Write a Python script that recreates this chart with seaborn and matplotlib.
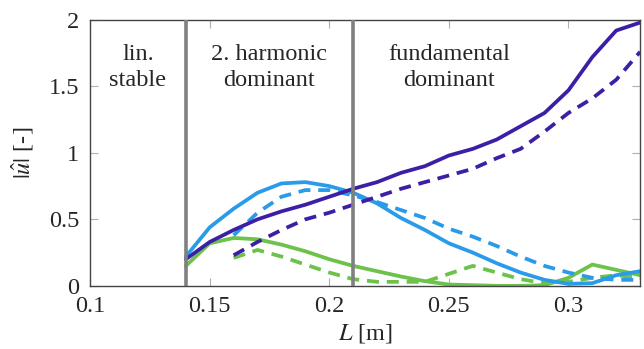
import numpy as np
import pandas as pd
import matplotlib
matplotlib.use("Agg")
import matplotlib.pyplot as plt
import seaborn as sns

sns.set_style("white")
plt.rcParams['font.family'] = ['Liberation Serif', 'DejaVu Serif']
plt.rcParams['mathtext.fontset'] = 'stix'

L_full = [0.14, 0.15, 0.16, 0.17, 0.18, 0.19, 0.20, 0.21, 0.22, 0.23, 0.24,
          0.25, 0.26, 0.27, 0.28, 0.29, 0.30, 0.31, 0.32, 0.33]
L_dash = L_full[2:]

fund_solid = [0.20, 0.33, 0.42, 0.50, 0.56, 0.61, 0.67, 0.73, 0.78, 0.85, 0.90,
              0.98, 1.03, 1.10, 1.20, 1.30, 1.47, 1.72, 1.92, 1.98]
fund_dash = [0.23, 0.33, 0.42, 0.50, 0.55, 0.61, 0.67, 0.73, 0.78, 0.83,
             0.88, 0.96, 1.03, 1.16, 1.30, 1.41, 1.55, 1.76]
harm2_solid = [0.22, 0.44, 0.58, 0.70, 0.77, 0.78, 0.75, 0.70, 0.62, 0.51, 0.42,
               0.32, 0.25, 0.17, 0.10, 0.045, 0.015, 0.02, 0.08, 0.11]
harm2_dash = [0.38, 0.55, 0.67, 0.72, 0.72, 0.68, 0.63, 0.57, 0.51, 0.43,
              0.37, 0.30, 0.22, 0.15, 0.10, 0.06, 0.045, 0.045]
harm3_solid = [0.15, 0.32, 0.36, 0.35, 0.31, 0.26, 0.20, 0.15, 0.11, 0.07, 0.035,
               0.01, 0.005, 0.0, 0.0, 0.005, 0.06, 0.16, 0.12, 0.08]
harm3_dash = [0.21, 0.27, 0.22, 0.16, 0.10, 0.05, 0.03, 0.03, 0.03, 0.09,
              0.15, 0.10, 0.05, 0.02, 0.03, 0.06, 0.08, 0.06]

x_ticks = [0.1, 0.15, 0.2, 0.25, 0.3]
x_tick_labels = ["0.1", "0.15", "0.2", "0.25", "0.3"]
y_ticks = [0, 0.5, 1, 1.5, 2]
y_tick_labels = ["0", "0.5", "1", "1.5", "2"]
regime_bounds = [0.14, 0.21]
regime_labels = ["lin.\nstable", "2. harmonic\ndominant", "fundamental\ndominant"]
regime_label_x = [0.12, 0.175, 0.25]

c_dark = "#3D1FA6"
c_blue = "#2A9BE8"
c_green = "#6CC24A"

fig = plt.figure(figsize=(6.44, 3.49), dpi=100)
ax = fig.add_axes([0.140, 0.181, 0.854, 0.762])

lw = 2.7
dash = (3.2, 2.1)
for xs, ys, col, ls in [
    (L_full, harm3_solid, c_green, '-'),
    (L_dash, harm3_dash, c_green, '--'),
    (L_full, harm2_solid, c_blue, '-'),
    (L_dash, harm2_dash, c_blue, '--'),
    (L_full, fund_solid, c_dark, '-'),
    (L_dash, fund_dash, c_dark, '--'),
]:
    df = pd.DataFrame({"L": xs, "u": ys})
    sns.lineplot(data=df, x="L", y="u", ax=ax, color=col, lw=lw,
                 estimator=None, sort=False)
    line = ax.lines[-1]
    if ls == '--':
        line.set_dashes(dash)

for b in regime_bounds:
    ax.axvline(b, color="#808080", lw=2.6, zorder=5)

fs = 17.5
for lab, xp in zip(regime_labels, regime_label_x):
    ax.text(xp, 1.64, lab, ha="center", va="center", fontsize=fs,
            linespacing=1.3)

ax.set_xlim(0.1, 0.33)
ax.set_ylim(0, 2)
ax.set_xticks(x_ticks)
ax.set_xticklabels(x_tick_labels)
ax.set_yticks(y_ticks)
ax.set_yticklabels(y_tick_labels)
ax.tick_params(direction="in", length=6, width=0.8, color="#b0b0b0",
               labelsize=fs, top=True, right=True, bottom=True, left=True)
ax.tick_params(axis="x", pad=7)
ax.tick_params(axis="y", pad=8)
for s in ax.spines.values():
    s.set_color("#444444")
    s.set_linewidth(1.0)
    s.set_visible(True)
ax.set_xlabel(r"$L$ [m]", fontsize=fs, labelpad=4)
ax.set_ylabel(r"$|\hat{u}|$ [-]", fontsize=fs, labelpad=9)

fig.savefig("out.png", dpi=100)
